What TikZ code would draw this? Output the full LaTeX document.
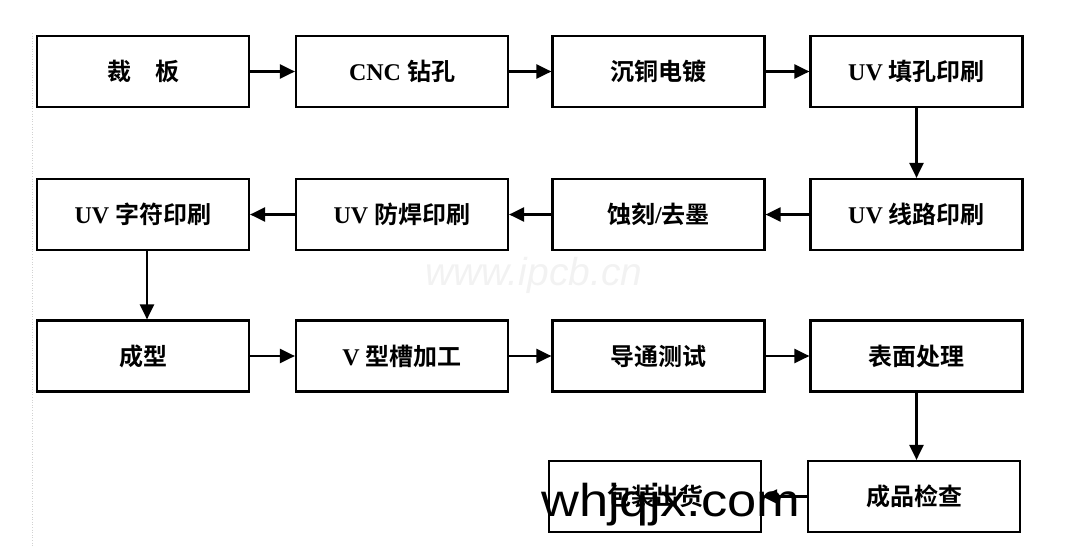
\documentclass[tikz,border=0pt]{standalone}
\usepackage{fontspec}
\setmainfont{Liberation Serif}
\newfontfamily\zh{Noto Sans CJK SC}[BoldFont={* Bold}]
\newfontfamily\wmfont{Liberation Sans}
\usepackage{tikz}
\usetikzlibrary{arrows.meta, positioning}
\tikzset{>={Triangle[length=15pt,width=14pt]}}

\begin{document}
\begin{tikzpicture}[x=1pt, y=-1pt, line width=2.2pt,
    box/.style={draw, minimum width=212pt, minimum height=71pt, inner sep=0pt,
                font=\fontsize{24}{28}\selectfont\bfseries}]

            \useasboundingbox (0,0) rectangle (1077,547);
            \draw[gray!35, line width=0.6pt, dotted] (32,33)--(32,547);

            \node[box] (A1) at (143,71.5) {\zh 裁　板};
            \node[box] (A2) at (402,71.5) {CNC \zh 钻孔};
            \node[box] (A3) at (658.5,71.5) {\zh 沉铜电镀};
            \node[box] (A4) at (916.5,71.5) {UV \zh 填孔印刷};
            \node[box] (B1) at (143,214.5) {UV \zh 字符印刷};
            \node[box] (B2) at (402,214.5) {UV \zh 防焊印刷};
            \node[box] (B3) at (658.5,214.5) {\zh 蚀刻\rmfamily/\zh 去墨};
            \node[box] (B4) at (916.5,214.5) {UV \zh 线路印刷};
            \node[box] (C1) at (143,356) {\zh 成型};
            \node[box] (C2) at (402,356) {V \zh 型槽加工};
            \node[box] (C3) at (658.5,356) {\zh 导通测试};
            \node[box] (C4) at (916.5,356) {\zh 表面处理};
            \node[box] (D1) at (655,496.5) {\zh 包装出货};
            \node[box] (D2) at (914,496.5) {\zh 成品检查};
            \draw [->] (A1)--(A2);
            \draw [->] (A2)--(A3);
            \draw [->] (A3)--(A4);
            \draw [->] (A4)--(B4);
            \draw [->] (B4)--(B3);
            \draw [->] (B3)--(B2);
            \draw [->] (B2)--(B1);
            \draw [->] ([xshift=4pt]B1.south)--([xshift=4pt]C1.north);
            \draw [->] (C1)--(C2);
            \draw [->] (C2)--(C3);
            \draw [->] (C3)--(C4);
            \draw [->] (C4.south)--(C4.south |- D2.north);
            \draw [->] (D2)--(D1);

            \node[text=gray!10, font=\wmfont\itshape\fontsize{39}{39}\selectfont, anchor=base] (wm1) at (534,285) {www.ipcb.cn};
            \node[font=\wmfont\fontsize{46}{46}\selectfont, xscale=1.14, anchor=base west, inner sep=0pt] (wm2) at (540,516) {whjqjx.com};
            \end{tikzpicture}
\end{document}
